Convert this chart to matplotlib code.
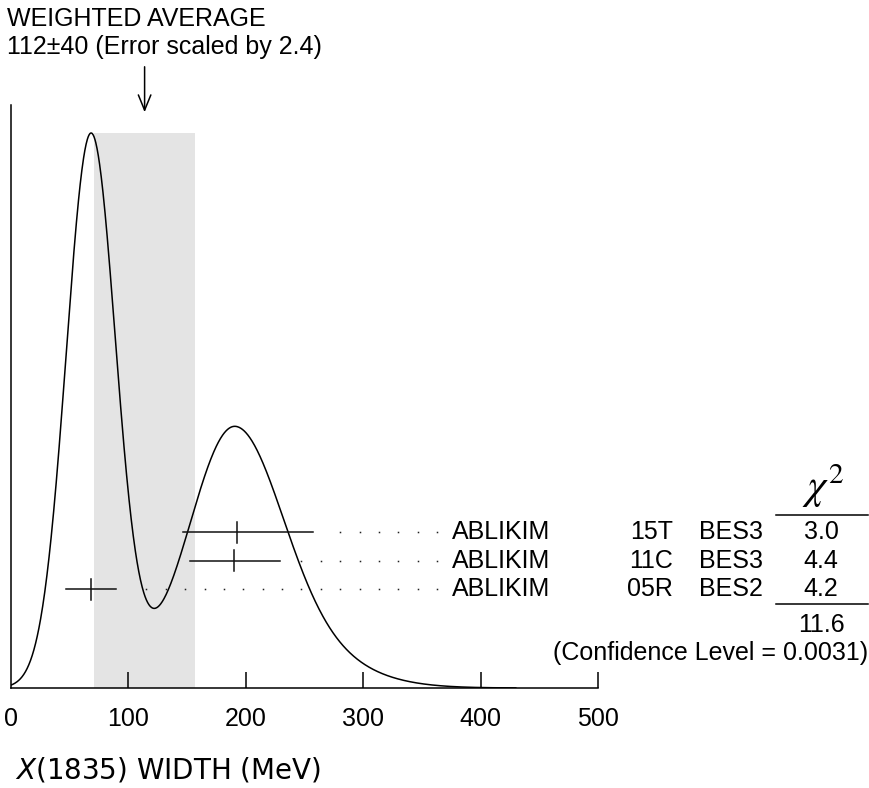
import numpy as np
import matplotlib
matplotlib.use("Agg")
import matplotlib.pyplot as plt
from matplotlib.transforms import blended_transform_factory

# ---- data ----
authors = ["ABLIKIM", "ABLIKIM", "ABLIKIM"]
years = ["15T", "11C", "05R"]
experiments = ["BES3", "BES3", "BES2"]
values = [193.0, 190.0, 68.3]
err_lo = [46.0, 37.0, 21.0]
err_hi = [64.0, 39.0, 21.0]
chi2 = ["3.0", "4.4", "4.2"]
chi2_total = "11.6"
conf_level = "0.0031"
avg_text = "112\u00b140 (Error scaled by 2.4)"
band_center = 114.0
band_half = 43.0
xticks = [0, 100, 200, 300, 400, 500]

W, H = 869, 788
fig = plt.figure(figsize=(W / 100, H / 100), dpi=100)
plt.rcParams['font.family'] = ['Liberation Sans', 'DejaVu Sans']

def fx(px):
    return px / W

def fy(py):
    return 1 - py / H

ax_l, ax_r, ax_b, ax_t = 10.7, 598.0, 688.0, 105.0
ax = fig.add_axes([fx(ax_l), fy(ax_b), fx(ax_r) - fx(ax_l), fy(ax_t) - fy(ax_b)])
ax.set_xlim(0, 500)

# ideogram curve
xs = np.linspace(0, 430, 1200)
curve = np.zeros_like(xs)
for v, lo, hi in zip(values, err_lo, err_hi):
    s = np.where(xs < v, lo, hi)
    sig = 0.5 * (lo + hi)
    curve += np.exp(-0.5 * ((xs - v) / s) ** 2) / sig ** 1.93
peak = curve.max()
top_frac = (ax_b - 133.0) / (ax_b - ax_t)
ax.set_ylim(0, peak / top_frac)

ax.axvspan(band_center - band_half, band_center + band_half, ymin=0, ymax=top_frac,
           color="#e4e4e4", lw=0, zorder=0)
ax.plot(xs, curve, color="black", lw=1.1, zorder=3)

# rows
tr = blended_transform_factory(ax.transData, ax.transAxes)
row_px = [532.0, 560.5, 589.0]
dot_step = 16.5
dot_end = 363.0
for i, (v, lo, hi) in enumerate(zip(values, err_lo, err_hi)):
    yf = (ax_b - row_px[i]) / (ax_b - ax_t)
    tick_h = 10.5 / (ax_b - ax_t)
    ax.plot([v - lo, v + hi], [yf, yf], color="#111111", lw=1.1, transform=tr, zorder=4)
    ax.plot([v, v], [yf - tick_h, yf + tick_h], color="#111111", lw=1.1, transform=tr, zorder=4)
    dots = []
    d = dot_end
    while d > v + hi + 15:
        dots.append(d)
        d -= dot_step
    ax.plot(dots, [yf] * len(dots), ls="none", marker="s", ms=1.1, mew=0, color="#222222",
            transform=tr, clip_on=False)
    fig.text(fx(452), fy(row_px[i]), authors[i], fontsize=18, va="center", ha="left")
    fig.text(fx(673), fy(row_px[i]), years[i], fontsize=18, va="center", ha="right")
    fig.text(fx(699), fy(row_px[i]), experiments[i], fontsize=18, va="center", ha="left")
    fig.text(fx(821), fy(row_px[i]), chi2[i], fontsize=18, va="center", ha="center")

# chi2 column
fig.text(fx(823), fy(486), r"$\chi^2$", fontsize=30, va="center", ha="center",
         math_fontfamily="stix")
fig.add_artist(plt.Line2D([fx(776), fx(868)], [fy(515), fy(515)], color="black", lw=1.1))
fig.add_artist(plt.Line2D([fx(776), fx(868)], [fy(604), fy(604)], color="black", lw=1.1))
fig.text(fx(821), fy(625), chi2_total, fontsize=18, va="center", ha="center")
fig.text(fx(868), fy(653), "(Confidence Level = " + conf_level + ")", fontsize=18,
         va="center", ha="right")

# weighted average text & arrow
fig.text(fx(7), fy(19), "WEIGHTED AVERAGE", fontsize=18, va="center", ha="left")
fig.text(fx(7), fy(47), avg_text, fontsize=18, va="center", ha="left")
ax.annotate("", xy=(band_center, (ax_b - 115) / (ax_b - ax_t)),
            xytext=(band_center, (ax_b - 64) / (ax_b - ax_t)),
            xycoords=tr, textcoords=tr, annotation_clip=False,
            arrowprops=dict(arrowstyle="->,head_length=1.1,head_width=0.45", color="black", lw=1.1))

# axes styling
for s in ["top", "right"]:
    ax.spines[s].set_visible(False)
ax.spines["left"].set_linewidth(1.1)
ax.spines["bottom"].set_linewidth(1.1)
ax.set_yticks([])
ax.set_xticks(xticks)
ax.set_xticklabels([str(t) for t in xticks], fontsize=18)
ax.tick_params(axis="x", direction="in", length=11.5, width=1.1, pad=13.5)
ax.xaxis.get_major_ticks()[0].tick1line.set_visible(False)
ax.patch.set_alpha(0)

fig.text(fx(15), fy(770), r"$X(1835)$ WIDTH (MeV)", fontsize=20, va="center", ha="left",
         family="DejaVu Sans")

fig.savefig("out.png", dpi=100)
